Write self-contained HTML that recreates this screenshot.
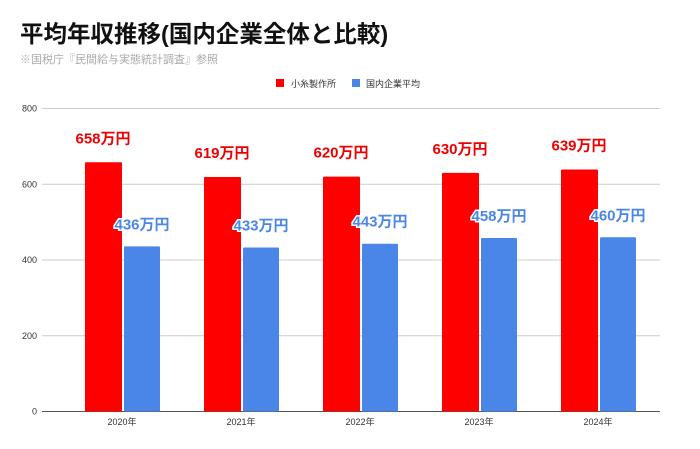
<!DOCTYPE html>
<html><head><meta charset="utf-8"><style>
body{margin:0;background:#fff;font-family:"Liberation Sans","Noto Sans CJK JP",sans-serif}
</style></head><body>
<svg width="700" height="444" viewBox="0 0 700 444" xmlns="http://www.w3.org/2000/svg" font-family="Liberation Sans, Noto Sans CJK JP, sans-serif">
<rect width="700" height="444" fill="#fff"/>
<text x="20" y="42" font-size="23.5" font-weight="bold" fill="#111">平均年収推移(国内企業全体と比較)</text>
<text x="20" y="63" font-size="11" fill="#aaa">※国税庁『民間給与実態統計調査』参照</text>
<g>
<rect x="276" y="79" width="8" height="8" fill="#ff0000"/>
<text x="291" y="87" font-size="9" fill="#333">小糸製作所</text>
<rect x="352" y="79" width="8" height="8" fill="#4a86e8"/>
<text x="366" y="87" font-size="9" fill="#333">国内企業平均</text>
</g>
<g id="grid"></g><g id="bars"></g>
</svg>
<script>
const categories=["2020年","2021年","2022年","2023年","2024年"];
const koito=[658,619,620,630,639];
const domestic=[436,433,443,458,460];
const yTicks=[0,200,400,600,800];
const NS="http://www.w3.org/2000/svg";
const y0=411.5,y1=108.5,ymax=800;
const yS=v=>y0-(v/ymax)*(y0-y1);
const cx=i=>122+i*119;
function mk(t,a,p,txt){const e=document.createElementNS(NS,t);for(const k in a)e.setAttribute(k,a[k]);if(txt!=null)e.textContent=txt;p.appendChild(e);return e;}
const g=document.getElementById('grid'),b=document.getElementById('bars');
yTicks.forEach(t=>{
const l=mk('line',{x1:42,x2:660,y1:yS(t),y2:yS(t),stroke:t===0?'#555':'#ccc','stroke-width':1},g);


const tx=mk('text',{x:37,y:yS(t)+3,'font-size':9,'text-anchor':'end',fill:'#333'},g,String(t));


});
categories.forEach((c,i)=>{
const x=cx(i);
const r=mk('rect',{x:x-37,y:yS(koito[i]),width:37,height:y0-yS(koito[i]),fill:'#ff0000',rx:1},b);


const bl=mk('rect',{x:x+2,y:yS(domestic[i]),width:36,height:y0-yS(domestic[i]),fill:'#4a86e8',rx:1},b);


const lr=mk('text',{x:x-19,y:yS(koito[i])-19,'font-size':15,'font-weight':'bold','text-anchor':'middle',fill:'#ee0000'},b,koito[i]+'万円');


const lb=mk('text',{x:x+20,y:yS(domestic[i])-17,'font-size':15,'font-weight':'bold','text-anchor':'middle',fill:'#4a86e8',stroke:'#fff','stroke-width':3,'paint-order':'stroke'},b,domestic[i]+'万円');


const xt=mk('text',{x:x,y:425,'font-size':9,'text-anchor':'middle',fill:'#333'},b,c);


});
</script>
</body></html>
